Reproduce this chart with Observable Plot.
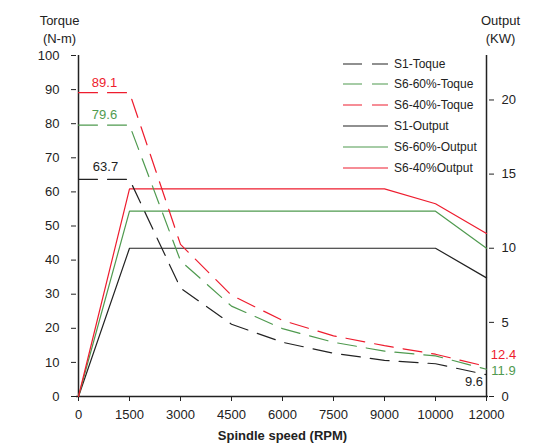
<!DOCTYPE html>
<html><head><meta charset="utf-8">
<script src="https://cdn.jsdelivr.net/npm/d3@7"></script>
<script src="https://cdn.jsdelivr.net/npm/@observablehq/plot@0.6"></script>
<style>
body{margin:0;background:#fff;font-family:"Liberation Sans",Arial,sans-serif;}
#wrap{position:relative;width:543px;height:444px;}
#legend{position:absolute;left:343px;top:53.3px;font-size:12px;color:#222;}
.row{display:flex;align-items:center;height:20.8px;white-space:nowrap;}
.row svg{margin-right:6px;display:block;}
</style></head><body><div id="wrap"></div>
<script>
const speeds = ["0","1500","3000","4500","6000","7500","9000","10000","12000"];
const s1Torque   = [63.7, 63.7, 31.8, 21.2, 15.9, 12.7, 10.6, 9.6, 6.4];
const s660Torque = [79.6, 79.6, 39.8, 26.5, 19.9, 15.9, 13.3, 11.9, 8.0];
const s640Torque = [89.1, 89.1, 44.6, 29.7, 22.3, 17.8, 14.9, 12.4, 8.8];
const s1Output   = [0, 10, 10, 10, 10, 10, 10, 10, 8];
const s660Output = [0, 12.5, 12.5, 12.5, 12.5, 12.5, 12.5, 12.5, 10];
const s640Output = [0, 14, 14, 14, 14, 14, 14, 13, 11];
const torqueTicks = [0,10,20,30,40,50,60,70,80,90,100];
const outputTicks = [0,5,10,15,20];
const outputMax = 23;
const seriesNames = ["S1-Toque","S6-60%-Toque","S6-40%-Toque","S1-Output","S6-60%-Output","S6-40%Output"];
const peakLabels = [89.1, 79.6, 63.7];
const endLabels = [12.4, 11.9, 9.6];

const BLACK = "#222", GREEN = "#4f9a4f", RED = "#ee1c2e";
const k = 100 / outputMax;
const dash = "19,10";
const sw = 1.2;

const torque = [[s1Torque, BLACK], [s660Torque, GREEN], [s640Torque, RED]];
const output = [[s1Output, BLACK], [s660Output, GREEN], [s640Output, RED]];

const chart = Plot.plot({
  width: 543, height: 444,
  marginLeft: 76, marginRight: 55, marginTop: 55, marginBottom: 48,
  style: {fontFamily: '"Liberation Sans", Arial, sans-serif', fontSize: "13px", color: "#222", background: "#fff"},
  x: {type: "point", domain: speeds, padding: 0},
  y: {domain: [0, 100]},
  marks: [
    Plot.axisY({anchor: "left", ticks: torqueTicks, tickSize: 5, tickPadding: 12, label: null, fontSize: 13, stroke: BLACK, fill: BLACK}),
    Plot.axisY(outputTicks, {anchor: "right", y: d => d * k, tickFormat: d => String(d), tickSize: 5, tickPadding: 8, label: null, fontSize: 13, stroke: BLACK, fill: BLACK}),
    Plot.axisX({tickSize: 5, tickPadding: 8, label: null, fontSize: 13, stroke: BLACK, fill: BLACK}),
    Plot.ruleX([speeds[0], speeds[speeds.length - 1]], {stroke: BLACK, strokeWidth: 1.5}),
    Plot.ruleY([0], {stroke: BLACK, strokeWidth: 1.5}),
    ...output.map(([vals, c]) => Plot.line(vals, {x: speeds, y: vals.map(v => v * k), stroke: c, strokeWidth: sw})),
    ...torque.map(([vals, c]) => Plot.line(vals, {x: speeds, y: vals, stroke: c, strokeWidth: sw, strokeDasharray: dash})),
    Plot.text([peakLabels[0]], {x: () => speeds[0], y: d => d, text: d => d.toFixed(1), dx: 26, dy: -10, fill: RED, fontSize: 13}),
    Plot.text([peakLabels[1]], {x: () => speeds[0], y: d => d, text: d => d.toFixed(1), dx: 26, dy: -10, fill: GREEN, fontSize: 13}),
    Plot.text([peakLabels[2]], {x: () => speeds[0], y: d => d, text: d => d.toFixed(1), dx: 27, dy: -12, fill: BLACK, fontSize: 13}),
    Plot.text([endLabels[0]], {x: () => speeds[8], y: d => d, text: d => d.toFixed(1), dx: 17, dy: 1, fill: RED, fontSize: 13}),
    Plot.text([endLabels[1]], {x: () => speeds[8], y: d => d, text: d => d.toFixed(1), dx: 17, dy: 15, fill: GREEN, fontSize: 13}),
    Plot.text([endLabels[2]], {x: () => speeds[8], y: d => d, text: d => d.toFixed(1), dx: -12.5, dy: 18, fill: BLACK, fontSize: 13}),
    Plot.text(["Torque\n(N-m)"], {frameAnchor: "top-left", lineAnchor: "middle", dx: -17, dy: -27.5, lineHeight: 1.45, fontSize: 13, fill: BLACK, textAnchor: "middle"}),
    Plot.text(["Output\n(KW)"], {frameAnchor: "top-right", lineAnchor: "middle", dx: 12, dy: -27.5, lineHeight: 1.45, fontSize: 13, fill: BLACK, textAnchor: "middle"}),
    Plot.text(["Spindle speed (RPM)"], {frameAnchor: "bottom", lineAnchor: "middle", dy: 39, fontSize: 13, fontWeight: "bold", fill: BLACK})
  ]
});

const wrap = document.getElementById("wrap");
wrap.appendChild(chart);

const legendColors = [BLACK, GREEN, RED, BLACK, GREEN, RED];
const legend = document.createElement("div");
legend.id = "legend";
seriesNames.forEach((name, i) => {
  const row = document.createElement("div");
  row.className = "row";
  const dashed = i < 3;
  row.innerHTML = `<svg width="45" height="4"><line x1="0" y1="2" x2="45" y2="2" stroke="${legendColors[i]}" stroke-width="${sw}" ${dashed ? 'stroke-dasharray="19,10"' : ''}/></svg><span>${name}</span>`;
  legend.appendChild(row);
});
wrap.appendChild(legend);
</script>
</body></html>
